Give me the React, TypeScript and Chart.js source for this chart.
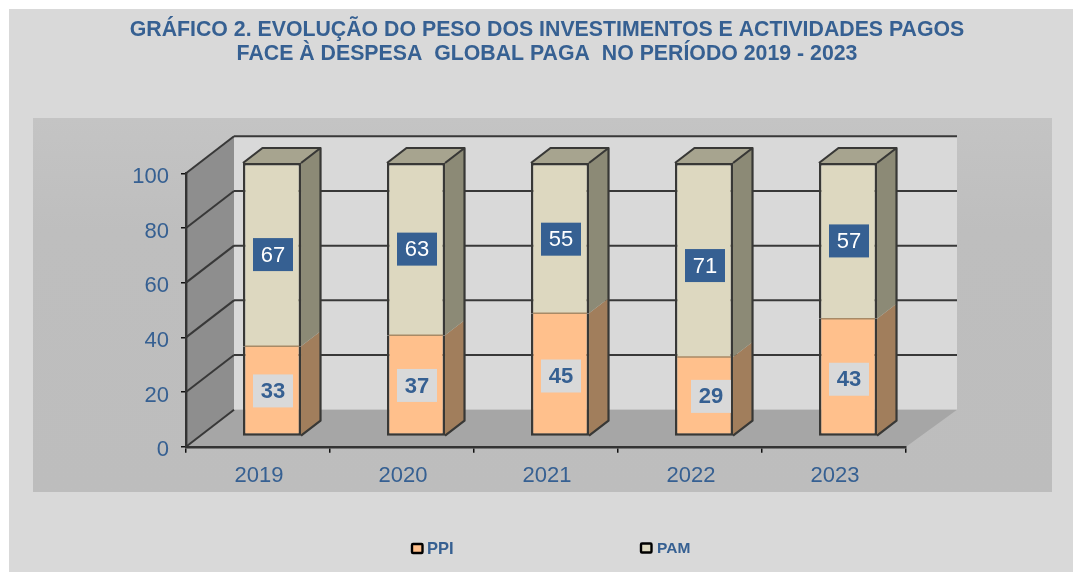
import React, { useEffect, useRef } from "react";
import { Chart, registerables } from "chart.js";

Chart.register(...registerables);

const categories = ["2019", "2020", "2021", "2022", "2023"];
const ppiValues = [33, 37, 45, 29, 43];
const pamValues = [67, 63, 55, 71, 57];
const titleLines = [
  "GRÁFICO 2. EVOLUÇÃO DO PESO DOS INVESTIMENTOS E ACTIVIDADES PAGOS",
  "FACE À DESPESA  GLOBAL PAGA  NO PERÍODO 2019 - 2023",
];

const BLUE = "#366092";
const FONT = "'Liberation Sans', Arial, sans-serif";
const EDGE = "#383836";
const wall = { dx: 48, dy: -37 };
const barOffset = { dx: 14, dy: -10.3 };
const barDepth = { dx: 19.5, dy: -15 };

const shades = [
  { side: "#A17E5C", top: "#C9A47E" },
  { side: "#8C8A76", top: "#A7A48F" },
];
// hand placement of the value labels, as in the reference
const labelShift = [
  [{ x: 0, y: 0 }, { x: 0, y: 0 }, { x: 0, y: 1.5 }, { x: 6, y: 0 }, { x: 0, y: 2 }],
  [{ x: 0, y: 0 }, { x: 0, y: 0 }, { x: 0, y: 1 }, { x: 0, y: 5.5 }, { x: 0, y: 0 }],
];

const depthPlugin = {
  id: "depth3d",
  beforeDraw(chart: any) {
    const { ctx, chartArea: a, scales } = chart;
    const y = scales.y;
    ctx.save();
    ctx.fillStyle = "#fff";
    ctx.fillRect(0, 0, chart.width, chart.height);
    ctx.fillStyle = "#D9D9D9";
    ctx.fillRect(9, 9, chart.width - 9, chart.height - 9);
    const g = ctx.createLinearGradient(0, 118, 0, 492);
    g.addColorStop(0, "#C4C4C4");
    g.addColorStop(0.3, "#BEBEBE");
    g.addColorStop(1, "#BDBDBD");
    ctx.fillStyle = g;
    ctx.fillRect(33, 118, 1019, 374);

    const l = a.left, r = a.right, t = a.top, b = a.bottom;
    const bl = l + wall.dx, br = r + wall.dx + 3, bt = t + wall.dy, bb = b + wall.dy;
    ctx.fillStyle = "#D9D9D9";
    ctx.fillRect(bl, bt, br - bl, bb - bt);
    ctx.fillStyle = "#8E8E8E";
    ctx.beginPath();
    ctx.moveTo(l, t); ctx.lineTo(bl, bt); ctx.lineTo(bl, bb); ctx.lineTo(l, b);
    ctx.closePath(); ctx.fill();
    ctx.fillStyle = "#A6A6A6";
    ctx.beginPath();
    ctx.moveTo(l, b); ctx.lineTo(bl, bb); ctx.lineTo(br, bb); ctx.lineTo(r, b);
    ctx.closePath(); ctx.fill();
    ctx.strokeStyle = "#383838";
    ctx.lineWidth = 2;
    for (const tick of y.ticks) {
      const py = y.getPixelForValue(tick.value);
      if (tick.value > 0) {
        ctx.beginPath();
        ctx.moveTo(bl, py + wall.dy); ctx.lineTo(br, py + wall.dy);
        ctx.stroke();
      }
      ctx.beginPath();
      ctx.moveTo(l, py); ctx.lineTo(bl, py + wall.dy);
      ctx.stroke();
    }
    ctx.restore();
  },
  beforeDatasetsDraw(chart: any) {
    const { ctx } = chart;
    ctx.save();
    ctx.translate(barOffset.dx, barOffset.dy);
    const { dx, dy } = barDepth;
    const count = chart.data.labels.length;
    for (let i = 0; i < count; i++) {
      let right = 0, left = 0, bottom = 0, top = 0;
      chart.data.datasets.forEach((_: any, d: number) => {
        const el = chart.getDatasetMeta(d).data[i];
        left = el.x - el.width / 2;
        right = el.x + el.width / 2;
        ctx.fillStyle = shades[d].side;
        ctx.beginPath();
        ctx.moveTo(right, el.y); ctx.lineTo(right + dx, el.y + dy);
        ctx.lineTo(right + dx, el.base + dy); ctx.lineTo(right, el.base);
        ctx.closePath(); ctx.fill();
        if (d === 0) bottom = el.base;
        top = el.y;
      });
      ctx.fillStyle = shades[1].top;
      ctx.beginPath();
      ctx.moveTo(left, top); ctx.lineTo(left + dx, top + dy);
      ctx.lineTo(right + dx, top + dy); ctx.lineTo(right, top);
      ctx.closePath(); ctx.fill();
      ctx.strokeStyle = EDGE;
      ctx.lineWidth = 2.2;
      ctx.lineJoin = "round";
      ctx.beginPath();
      ctx.moveTo(left, top); ctx.lineTo(left + dx, top + dy);
      ctx.lineTo(right + dx, top + dy); ctx.lineTo(right, top);
      ctx.moveTo(right + dx, top + dy); ctx.lineTo(right + dx, bottom + dy);
      ctx.lineTo(right, bottom);
      ctx.stroke();
    }
  },
  afterDatasetsDraw(chart: any) {
    const { ctx } = chart;
    // seam between the two stacked parts, above the fronts
    ctx.strokeStyle = "#A88A66";
    ctx.lineWidth = 1.5;
    chart.getDatasetMeta(0).data.forEach((el: any) => {
      ctx.beginPath();
      ctx.moveTo(el.x - el.width / 2 + 2, el.y);
      ctx.lineTo(el.x + el.width / 2 - 2, el.y);
      ctx.stroke();
    });
    ctx.restore();
    const { dx: ox, dy: oy } = barOffset;
    ctx.save();
    ctx.textAlign = "center";
    ctx.textBaseline = "middle";
    chart.data.datasets.forEach((ds: any, d: number) => {
      chart.getDatasetMeta(d).data.forEach((el: any, i: number) => {
        const cx = el.x + ox + 1 + labelShift[d][i].x;
        const cy = (el.y + el.base) / 2 + oy + labelShift[d][i].y;
        ctx.fillStyle = d === 0 ? "#D9D9D9" : BLUE;
        ctx.fillRect(cx - 20, cy - 16.5, 40, 33);
        ctx.fillStyle = d === 0 ? BLUE : "#FFFFFF";
        ctx.font = `${d === 0 ? "bold " : ""}22px ${FONT}`;
        ctx.fillText(String(ds.data[i]), cx, cy + 1);
      });
    });
    const spots = [
      { box: 411, text: 427, y: 543, size: 16.5 },
      { box: 640, text: 657, y: 542.5, size: 15.5 },
    ];
    chart.data.datasets.forEach((ds: any, d: number) => {
      const s = spots[d];
      ctx.fillStyle = ds.backgroundColor;
      ctx.strokeStyle = "#000";
      ctx.lineWidth = 2.4;
      ctx.beginPath();
      ctx.roundRect(s.box + 1, s.y + 1, 10.5, 9, 1);
      ctx.fill();
      ctx.stroke();
      ctx.textAlign = "left";
      ctx.fillStyle = BLUE;
      ctx.font = `bold ${s.size}px ${FONT}`;
      ctx.fillText(ds.label, s.text, s.y + 6);
    });
    ctx.restore();
  },
  afterLayout(chart: any) {
    const t = chart.titleBlock;
    t.left = 9;
    t.right = 1085;
    t.top = 18.5;
    t.bottom = 66.5;
  },
};

export default function App() {
  const ref = useRef<HTMLCanvasElement>(null);
  useEffect(() => {
    const chart = new Chart(ref.current as HTMLCanvasElement, {
      type: "bar",
      plugins: [depthPlugin as any],
      data: {
        labels: categories,
        datasets: [
          {
            label: "PPI",
            data: ppiValues,
            backgroundColor: "#FFC08C",
            borderColor: EDGE,
            borderWidth: 2.4,
            borderSkipped: "top",
            clip: false as any,
          },
          {
            label: "PAM",
            data: pamValues,
            backgroundColor: "#DDD8C0",
            borderColor: EDGE,
            borderWidth: 2.4,
            borderSkipped: "bottom",
            clip: false as any,
          },
        ],
      },
      options: {
        responsive: false,
        animation: false,
        events: [],
        layout: { padding: { top: 125.3, left: 110, right: 167, bottom: 85.3 } },
        datasets: { bar: { categoryPercentage: 1, barPercentage: 0.403 } },
        plugins: {
          legend: { display: false },
          tooltip: { enabled: false },
          title: {
            display: true,
            text: titleLines,
            color: BLUE,
            padding: 0,
            font: { family: FONT, size: 21.3, weight: "bold", lineHeight: 48 / 2 / 21.3 },
          },
        },
        scales: {
          x: {
            stacked: true,
            border: { color: "#333", width: 2.4 },
            grid: { drawOnChartArea: false, color: "#111", lineWidth: 1.5, tickLength: 6 },
            ticks: { color: BLUE, padding: 10, labelOffset: 1, font: { family: FONT, size: 22 }, maxRotation: 0 },
            afterFit(s: any) { s.height = 40; },
          },
          y: {
            stacked: true,
            min: 0,
            max: 100,
            border: { color: "#333", width: 2.4 },
            grid: { drawOnChartArea: false, color: "#111", lineWidth: 1.5, tickLength: 5 },
            ticks: { stepSize: 20, color: BLUE, padding: 12, labelOffset: 3.5, font: { family: FONT, size: 22 } },
            afterFit(s: any) { s.width = 76; },
          },
        },
      },
    });
    return () => chart.destroy();
  }, []);
  return (
    <div style={{ position: "absolute", left: 0, top: 0, width: 1073, height: 572, overflow: "hidden" }}>
      <canvas ref={ref} width={1073} height={572} style={{ display: "block", filter: "blur(0.5px)" }} />
    </div>
  );
}
